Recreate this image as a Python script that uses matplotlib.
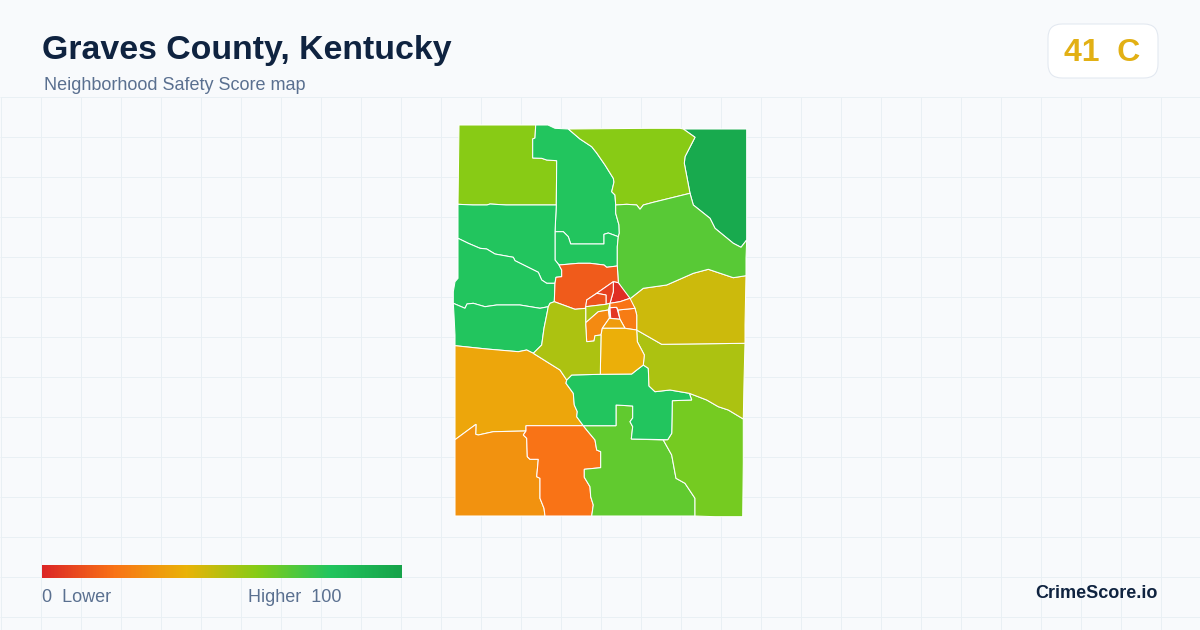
"""Neighborhood safety score map for Graves County, Kentucky."""
import numpy as np
import matplotlib
matplotlib.use('Agg')
import matplotlib.pyplot as plt
from matplotlib.colors import LinearSegmentedColormap
from matplotlib.patches import FancyBboxPatch, Polygon

plt.rcParams['font.family'] = ['Liberation Sans', 'DejaVu Sans']

TITLE = 'Graves County, Kentucky'
SUBTITLE = 'Neighborhood Safety Score map'
BADGE = '41  C'
BRAND = 'CrimeScore.io'

COLOR_STOPS = ['#dc2626', '#f97316', '#eab308', '#84cc16', '#22c55e', '#16a34a']

# region outlines in image pixels
NW = [(459, 125), (535.7, 125), (535, 138), (532.7, 139), (532.7, 158), (541.7, 158.3), (546.7, 160),
      (556.7, 160.7), (556.3, 205), (506, 205), (490, 204), (487, 205), (473, 205), (458, 204.3)]
N_CENTER = [(535.7, 125), (548, 125), (555, 128.3), (568.3, 129), (580, 139), (591.7, 146.7), (596.7, 153),
            (605, 165), (613.3, 178.3), (614, 182), (611.7, 191.7), (615, 195), (615.7, 205), (615.7, 213.3),
            (619, 225), (619.3, 233.3), (618.3, 236.7), (608.3, 233), (604, 234.3), (604, 244), (570.7, 244),
            (568.3, 236.7), (563.3, 231.7), (555, 231.7), (556.3, 205), (556.7, 160.7), (546.7, 160),
            (541.7, 158.3), (532.7, 158), (532.7, 139), (535, 138)]
N_LOWER = [(555, 231.7), (563.3, 231.7), (568.3, 236.7), (570.7, 244), (604, 244), (604, 234.3), (608.3, 233),
           (618.3, 236.7), (617.3, 246.7), (617.3, 266), (606.7, 267.3), (604, 265), (590, 263.3),
           (578.3, 263.3), (559, 265), (555, 260)]
WEST_1 = [(458, 204.3), (473, 205), (487, 205), (490, 204), (506, 205), (556.3, 205), (555, 231.7), (555, 260),
          (559, 265), (561.7, 270), (561.7, 276.7), (556, 277.3), (555, 283.3), (546.7, 283.3), (541.7, 280),
          (538.3, 272.3), (515, 260.7), (513.3, 257.3), (495, 254), (486.7, 249), (480, 248.3),
          (468.3, 243.3), (458, 238.3)]
WEST_2 = [(458, 238.3), (468.3, 243.3), (480, 248.3), (486.7, 249), (495, 254), (513.3, 257.3), (515, 260.7),
          (538.3, 272.3), (541.7, 280), (546.7, 283.3), (555, 283.3), (554.3, 301.7), (550, 303.3),
          (548.3, 306.7), (540, 308.3), (520, 305), (496.7, 305), (485, 306.7), (473.3, 303.3), (467, 304),
          (465, 308.3), (453.3, 303.3), (453.3, 291.7), (455, 281.7), (458, 278.3)]
WEST_3 = [(453.3, 303.3), (465, 308.3), (467, 304), (473.3, 303.3), (485, 306.7), (496.7, 305), (520, 305),
          (540, 308.3), (548.3, 306.7), (546.7, 315), (544, 328.3), (541.7, 345), (533.3, 353.3), (526.7, 350),
          (518.3, 351.7), (486.7, 349), (455, 345.7), (455, 335), (454, 315)]
SW_UPPER = [(455, 345.7), (486.7, 349), (518.3, 351.7), (526.7, 350), (533.3, 353.3), (546.7, 361.7), (560, 370),
            (566.7, 380), (566, 383.3), (573.3, 393.3), (574.3, 405), (577.3, 411.7), (576.7, 416.7),
            (583.3, 425.7), (526, 425.7), (526, 431), (493.3, 431.7), (478.3, 435), (475.7, 434.3), (476, 424.3),
            (455, 439.7)]
SW_LOWER = [(455, 439.7), (476, 424.3), (475.7, 434.3), (478.3, 435), (493.3, 431.7), (526, 431), (523.3, 435),
            (526.7, 438.3), (527.3, 456.7), (530, 459.3), (538.3, 459.3), (536.7, 476.7), (540, 478.3),
            (540, 498.3), (544, 508.3), (545, 516), (455, 516)]
S_ORANGE = [(526, 425.7), (583.3, 425.7), (586.7, 430), (595, 440), (596.7, 450), (600.7, 451.7), (600.7, 467.7),
            (584.3, 469.3), (584.3, 477.3), (590, 486.7), (590.7, 496.7), (593.3, 505), (591.7, 516), (545, 516),
            (544, 508.3), (540, 498.3), (540, 478.3), (536.7, 476.7), (538.3, 459.3), (530, 459.3),
            (527.3, 456.7), (526.7, 438.3), (523.3, 435), (526, 431)]
S_GREEN = [(583.3, 425.7), (616, 425.7), (616, 405), (632.7, 406), (632.7, 418), (630, 421.7), (632.7, 426.7),
           (631.3, 439), (663.3, 440), (671.7, 455), (676, 478.3), (685, 483.3), (695, 498.3), (695, 516),
           (591.7, 516), (593.3, 505), (590.7, 496.7), (590, 486.7), (584.3, 477.3), (584.3, 469.3),
           (600.7, 467.7), (600.7, 451.7), (596.7, 450), (595, 440), (586.7, 430)]
SE = [(663.3, 440), (667.7, 439.7), (671.7, 433.3), (672.3, 400.7), (691.7, 400), (689.3, 393.3), (706.7, 400),
      (718.3, 406.7), (728.3, 410), (743.3, 419), (743.3, 463), (742.7, 516.7), (715, 516.7), (695, 516),
      (695, 498.3), (685, 483.3), (676, 478.3), (671.7, 455)]
CENTER_GREEN = [(566.7, 380), (571.7, 375), (600.3, 374.3), (631.7, 374), (636.7, 370), (643.3, 365),
                (648.3, 368.3), (649, 386), (655, 391.7), (670, 390), (689.3, 393.3), (691.7, 400), (672.3, 400.7),
                (671.7, 433.3), (667.7, 439.7), (631.3, 439), (632.7, 426.7), (630, 421.7), (632.7, 418),
                (632.7, 406), (616, 405), (616, 425.7), (583.3, 425.7), (576.7, 416.7), (577.3, 411.7),
                (574.3, 405), (573.3, 393.3), (566, 383.3)]
E_LOWER = [(636.7, 330), (661.7, 344.3), (745, 343.3), (744, 381.7), (743.3, 419), (728.3, 410), (718.3, 406.7),
           (706.7, 400), (689.3, 393.3), (670, 390), (655, 391.7), (649, 386), (648.3, 368.3), (643.3, 365),
           (644.3, 355), (641.7, 350), (637.3, 341.7)]
E_UPPER = [(629.3, 299.3), (643.3, 288.3), (666.7, 285), (693.3, 273.3), (708.3, 269.3), (733.3, 277.7),
           (746, 275.7), (745, 325), (745, 343.3), (661.7, 344.3), (636.7, 330), (636.7, 315), (635, 308.3)]
NE = [(683.3, 129), (746.7, 129), (746.7, 240), (741, 247.3), (733.3, 243.3), (715, 228.3), (710, 218.3),
      (693.3, 205), (690, 193.3), (684.3, 163.3), (685, 156.7), (695, 137.3)]
N_EAST = [(568.3, 129), (650, 128.3), (680, 128.3), (683.3, 129), (695, 137.3), (685, 156.7), (684.3, 163.3),
          (690, 193.3), (653.3, 202.3), (643.3, 205), (640, 209.3), (636.7, 205), (626.7, 204.3), (615.7, 205),
          (615, 195), (611.7, 191.7), (614, 182), (613.3, 178.3), (605, 165), (596.7, 153), (591.7, 146.7),
          (580, 139)]
MID_EAST = [(615.7, 205), (626.7, 204.3), (636.7, 205), (640, 209.3), (643.3, 205), (653.3, 202.3), (690, 193.3),
            (693.3, 205), (710, 218.3), (715, 228.3), (733.3, 243.3), (741, 247.3), (746.7, 240), (746, 258.3),
            (746, 275.7), (733.3, 277.7), (708.3, 269.3), (693.3, 273.3), (666.7, 285), (643.3, 288.3),
            (629.3, 299.3), (618.3, 282.7), (617.3, 266), (617.3, 246.7), (618.3, 236.7), (619.3, 233.3),
            (619, 225), (615.7, 213.3)]
RING = [(559, 265), (578.3, 263.3), (590, 263.3), (604, 265), (606.7, 267.3), (617.3, 266), (618.3, 282.7),
        (613.3, 281.7), (596.7, 293.3), (586.7, 300), (585.7, 308.3), (575, 309.3), (563.3, 305), (554.3, 301.7),
        (555, 283.3), (556, 277.3), (561.7, 276.7), (561.7, 270)]
CORE_RED = [(613.3, 281.7), (618.3, 282.7), (630, 298.3), (620, 301.7), (610, 303.3), (613.3, 291.7)]
CORE_NW_1 = [(613.3, 281.7), (596.7, 293.3), (606, 295), (606, 304.3), (610, 303.3), (613.3, 291.7)]
CORE_NW_2 = [(596.7, 293.3), (586.7, 300), (585.7, 306.7), (606, 304.3), (606, 295)]
CORE_LIME = [(585.7, 306.7), (606, 304.3), (610, 303.3), (608.3, 310), (598.3, 311.7), (585.7, 322.7)]
CORE_ORANGE = [(585.7, 322.7), (598.3, 311.7), (608.3, 310), (609.3, 318.3), (602.3, 328.3), (601, 335),
               (595, 335.7), (594, 341), (586.7, 341.7), (585.7, 325)]
CORE_SMALL_RED = [(610, 307.7), (616.7, 307.3), (620, 319.3), (610.7, 318.3)]
CORE_EAST = [(618, 310), (635, 308.3), (636.7, 315), (636.7, 330), (625, 328.3), (620, 319.3)]
CORE_BAND = [(610, 303.3), (620, 301.7), (630, 298.3), (635, 308.3), (618, 310), (616.7, 307.3), (610, 307.7)]
CORE_SOUTH = [(609.3, 318.3), (620, 319.3), (625, 328.3), (602.3, 328.3)]
CENTER_YELLOW = [(601, 335), (602.3, 328.3), (625, 328.3), (636.7, 330), (637.3, 341.7), (641.7, 350),
                 (644.3, 355), (643.3, 365), (636.7, 370), (631.7, 374), (600.3, 374.3)]
CENTER_LIME = [(554.3, 301.7), (563.3, 305), (575, 309.3), (585.7, 308.3), (585.7, 322.7), (585.7, 325),
               (586.7, 341.7), (594, 341), (595, 335.7), (601, 335), (600.3, 374.3), (571.7, 375), (566.7, 380),
               (560, 370), (546.7, 361.7), (533.3, 353.3), (541.7, 345), (544, 328.3), (546.7, 315),
               (548.3, 306.7), (550, 303.3)]

REGIONS = [NW, N_CENTER, N_LOWER, WEST_1, WEST_2, WEST_3, SW_UPPER, SW_LOWER, S_ORANGE, S_GREEN, SE, CENTER_GREEN,
           E_LOWER, E_UPPER, NE, N_EAST, MID_EAST, RING, CORE_RED, CORE_NW_1, CORE_NW_2, CORE_LIME, CORE_ORANGE,
           CORE_SMALL_RED, CORE_EAST, CORE_BAND, CORE_SOUTH, CENTER_YELLOW, CENTER_LIME]
SCORES = [59, 80, 80, 80, 80, 80, 36, 30, 20, 67, 63, 80,
          52, 46, 96, 59, 69, 14, 2, 7, 12, 52, 27,
          5, 23, 20, 33, 39, 52]


def main():
    cmap = LinearSegmentedColormap.from_list('score', COLOR_STOPS)

    fig = plt.figure(figsize=(12, 6.3), dpi=100, facecolor='#f8fafc')
    ax = fig.add_axes([0, 0, 1, 1])
    ax.set_axis_off()

    # faint grid, only below the header
    ax.vlines(np.arange(0.5, 1200, 40), 97, 630, color='#e9f0f4', lw=0.72, zorder=1)
    ax.hlines(np.arange(96.5, 630, 40), 0, 1200, color='#e9f0f4', lw=0.72, zorder=1)

    for outline, score in zip(REGIONS, SCORES):
        ax.add_patch(Polygon(outline, closed=True, facecolor=cmap(score / 100), edgecolor='white', lw=0.75, zorder=2))

    ax.text(42.5, 50, TITLE, fontsize=24.4, fontweight='bold', color='#0f2340', va='center', zorder=5)
    ax.text(43.5, 85, SUBTITLE, fontsize=13, color='#5a7090', va='center', zorder=5)

    badge = FancyBboxPatch((1060, 36), 86, 30, boxstyle='round,pad=0,rounding_size=14', mutation_aspect=1,
                           facecolor='white', edgecolor='#e2e8f0', lw=0.75, zorder=4)
    badge.set_boxstyle('round', pad=12, rounding_size=14)
    ax.add_patch(badge)
    ax.text(1102.5, 53, BADGE, fontsize=23, fontweight='bold', color='#e2b014', ha='center', va='center', zorder=5)

    # colour scale legend
    ramp = np.linspace(0, 1, 360).reshape(1, -1)
    ax.imshow(ramp, cmap=cmap, extent=(42, 402, 578, 565), aspect='auto', zorder=3)
    ax.text(42, 597, '0  Lower', fontsize=13, color='#5a7090', va='center', zorder=5)
    ax.text(342, 597, 'Higher  100', fontsize=13, color='#5a7090', ha='right', va='center', zorder=5)
    ax.text(1158, 594, BRAND, fontsize=13, fontweight='bold', color='#0f2340', ha='right', va='center', zorder=5)

    ax.set_xlim(0, 1200)
    ax.set_ylim(630, 0)

    fig.savefig('out.png', dpi=100, facecolor=fig.get_facecolor())
    plt.close(fig)


if __name__ == '__main__':
    main()
